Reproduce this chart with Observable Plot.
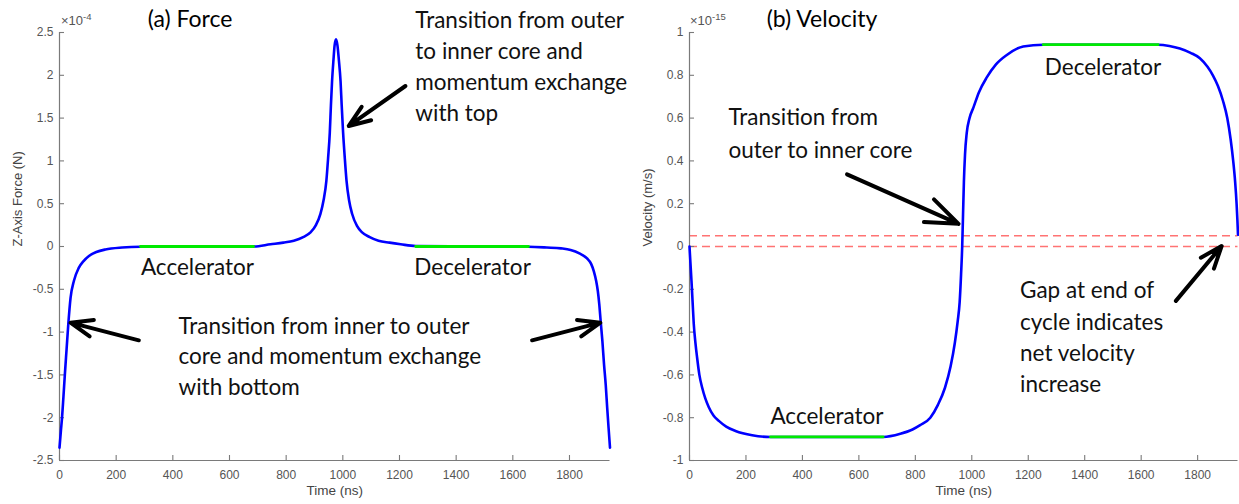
<!DOCTYPE html>
<html><head><meta charset="utf-8">
<script src="https://cdn.jsdelivr.net/npm/d3@7"></script>
<script src="https://cdn.jsdelivr.net/npm/@observablehq/plot@0.6"></script>
<style>
body{margin:0;background:#fff;}
#wrap{position:relative;width:1239px;height:504px;overflow:hidden;background:#fff;}
.panel{position:absolute;top:0;}
.title{position:absolute;font-family:Lato,sans-serif;font-size:23px;color:#000;transform:translate(-50%,-50%);white-space:nowrap;}
.mult{position:absolute;font-family:"Liberation Sans",Arial,sans-serif;font-size:13px;color:#555;white-space:nowrap;}
.mult sup{font-size:9.5px;}
</style></head><body>
<div id="wrap"></div>
<script>
// ---------- Panel (a): Force (units of 1e-4 N) ----------
const forceTime = [0,5,9,14,19,25,31,39,51,68,85,104,130,162,221,286,685,745,790,827,860,886,905,921,932,942,948,954,958,962,967,971,976,981,986,992,996,1001,1007,1013,1022,1033,1050,1068,1095,1126,1165,1204,1257,1655,1720,1770,1804,1835,1862,1876,1886,1894,1900,1905,1910,1916,1922,1928,1933,1938,1943];
const forceValue = [-2.35,-2.15,-2.0,-1.75,-1.49,-1.2,-0.91,-0.60,-0.40,-0.25,-0.17,-0.11,-0.065,-0.035,-0.012,-0.003,0.0,0.026,0.045,0.068,0.11,0.165,0.25,0.38,0.54,0.77,1.03,1.33,1.65,1.93,2.18,2.35,2.42,2.35,2.18,1.93,1.65,1.33,1.03,0.77,0.54,0.38,0.24,0.165,0.11,0.068,0.045,0.026,0.005,-0.003,-0.012,-0.022,-0.04,-0.08,-0.14,-0.2,-0.29,-0.4,-0.52,-0.67,-0.87,-1.1,-1.38,-1.62,-1.88,-2.12,-2.35];
const forceGreenTime = [[286,685],[1257,1655]];
const forceGreenValue = [[0,0],[0,0]];
const forceYTicks = [-2.5,-2,-1.5,-1,-0.5,0,0.5,1,1.5,2,2.5];
const forceNoteText = ["Transition from outer\nto inner core and\nmomentum exchange\nwith top","Accelerator","Decelerator","Transition from inner to outer\ncore and momentum exchange\nwith bottom"];
const forceNoteTime = [1256,487,1458,420];
const forceNoteValue = [2.125,-0.251,-0.251,-1.26];
const forceNoteAnchor = ["start","middle","middle","start"];
const forceNoteLineHeight = [1.37,1,1,1.36];
const forceArrowFrom = [[1221,1.875],[280,-1.096],[1668,-1.096]];
const forceArrowTo = [[1021,1.408],[38.8,-0.89],[1909,-0.89]];

// ---------- Panel (b): Velocity (units of 1e-15 m/s) ----------
const velTime = [0,3,7,11,15,21,27,35,45,56,68,85,104,130,163,222,287,686,747,790,817,853,880,905,925,940,950,957,962,966,969,972,976,982,992,1006,1025,1053,1085,1124,1182,1253,1660,1700,1737,1775,1808,1835,1854,1872,1890,1905,1917,1926,1933,1938,1941,1943];
const velValue = [0,-0.07,-0.16,-0.26,-0.36,-0.45,-0.52,-0.6,-0.66,-0.71,-0.75,-0.79,-0.815,-0.842,-0.862,-0.882,-0.89,-0.89,-0.875,-0.855,-0.835,-0.80,-0.74,-0.66,-0.56,-0.45,-0.35,-0.26,-0.13,0,0.15,0.30,0.43,0.53,0.60,0.65,0.72,0.79,0.85,0.895,0.935,0.943,0.943,0.937,0.925,0.905,0.88,0.84,0.80,0.75,0.68,0.60,0.50,0.40,0.30,0.20,0.12,0.055];
const velGreenTime = [[287,686],[1253,1660]];
const velGreenValue = [[-0.89,-0.89],[0.943,0.943]];
const velRefLines = [0,0.05];
const velYTicks = [-1,-0.8,-0.6,-0.4,-0.2,0,0.2,0.4,0.6,0.8,1];
const velNoteText = ["Transition from\nouter to inner core","Decelerator","Accelerator","Gap at end of\ncycle indicates\nnet velocity\nincrease"];
const velNoteTime = [138,1465,487,1171];
const velNoteValue = [0.542,0.834,-0.798,-0.414];
const velNoteAnchor = ["start","middle","middle","start"];
const velNoteLineHeight = [1.48,1,1,1.38];
const velArrowFrom = [[558,0.337],[1723,-0.254]];
const velArrowTo = [[953,0.106],[1885,0.002]];

const xTicks = [0,200,400,600,800,1000,1200,1400,1600,1800];
const xDomain = [0,1943];

const AX = "#7a7a7a", TX = "#555", LBL = "#444";
const annFont = "Lato, 'Open Sans', sans-serif";
const annSize = 22.5;

function series(ts, vs){ return ts.map((t,i)=>({t, v: vs[i]})); }
function arrows(from,to){ return from.map((f,i)=>({x1:f[0],y1:f[1],x2:to[i][0],y2:to[i][1]})); }
function buildNotes(text, ts, vs, anchors, lhs){
  return text.map((s,i)=>({text:s, t:ts[i], v:vs[i], anchor:anchors[i], lh:lhs[i]}));
}

function fullPanel(opts, notesArr){
  const groups = d3.groups(notesArr, d=>d.anchor+"|"+d.lh);
  const noteMarks = groups.map(([k, arr]) => Plot.text(arr, {x:"t", y:"v", text:"text", textAnchor: arr[0].anchor, lineHeight: arr[0].lh, fontFamily: annFont, fontSize: annSize, fill:"#111"}));
  const marks = [];
  if (opts.refLines) marks.push(Plot.ruleY(opts.refLines, {stroke:"#ff7373", strokeWidth:1.4, strokeDasharray:"8,5"}));
  marks.push(
    Plot.ruleY([opts.yDomain[0]], {stroke: AX, strokeWidth: 1.2}),
    Plot.ruleX([xDomain[0]], {stroke: AX, strokeWidth: 1.2}),
    // inward tick marks
    Plot.axisX({ticks: xTicks, tickSize: 5, dy: -5, text: null, stroke: AX, strokeWidth: 1.1}),
    Plot.axisY({ticks: opts.yTicks, tickSize: 5, dx: 5, text: null, stroke: AX, strokeWidth: 1.1}),
    // tick labels
    Plot.axisX({ticks: xTicks, tickSize: 0, tickPadding: 10, tickFormat: d=>String(d), fill: TX, fontSize: 12}),
    Plot.axisY({ticks: opts.yTicks, tickSize: 0, tickPadding: 6, tickFormat: d=>String(d), fill: TX, fontSize: 12}),
    Plot.line(opts.line, {x:"t", y:"v", stroke:"#0000ff", strokeWidth:2.6, curve:"monotone-x"})
  );
  for (const g of opts.greens) marks.push(Plot.line(g, {x:"t", y:"v", stroke:"#00ea00", strokeWidth:2.8}));
  marks.push(
    Plot.arrow(opts.arrowData, {x1:"x1", y1:"y1", x2:"x2", y2:"y2", stroke:"#000", strokeWidth:4, headLength:13, headAngle:42, strokeLinejoin:"miter"}),
    ...noteMarks,
    Plot.text(["Time (ns)"], {text: d=>d, frameAnchor:"bottom", dy: 34, fontSize: 13.5, fill: LBL}),
    Plot.text([opts.ylabel], {text: d=>d, frameAnchor:"left", rotate:-90, dx:-42, fontSize: 13, fill: LBL})
  );
  return Plot.plot({
    width: opts.width, height: 504,
    marginLeft: opts.marginLeft, marginRight: opts.marginRight, marginTop: 32, marginBottom: 44,
    style: {fontFamily: "'Liberation Sans', Arial, sans-serif", background: "transparent", overflow: "visible"},
    x: {domain: xDomain},
    y: {domain: opts.yDomain},
    marks
  });
}

const wrap = document.getElementById("wrap");

const left = fullPanel({
  width: 620, marginLeft: 59, marginRight: 10.5,
  yDomain: [-2.5, 2.5], yTicks: forceYTicks,
  line: series(forceTime, forceValue),
  greens: forceGreenTime.map((ts,i)=>series(ts, forceGreenValue[i])),
  arrowData: arrows(forceArrowFrom, forceArrowTo),
  ylabel: "Z-Axis Force (N)"
}, buildNotes(forceNoteText, forceNoteTime, forceNoteValue, forceNoteAnchor, forceNoteLineHeight));
left.classList.add("panel"); left.style.left = "0px";
wrap.appendChild(left);

const right = fullPanel({
  width: 619, marginLeft: 69, marginRight: 1.5,
  yDomain: [-1, 1], yTicks: velYTicks,
  line: series(velTime, velValue),
  greens: velGreenTime.map((ts,i)=>series(ts, velGreenValue[i])),
  arrowData: arrows(velArrowFrom, velArrowTo),
  ylabel: "Velocity (m/s)",
  refLines: velRefLines
}, buildNotes(velNoteText, velNoteTime, velNoteValue, velNoteAnchor, velNoteLineHeight));
right.classList.add("panel"); right.style.left = "620px";
wrap.appendChild(right);

// titles and exponent multipliers
const titles = [{text:"(a) Force", x:190, y:18},{text:"(b) Velocity", x:822, y:18}];
for (const t of titles){ const d=document.createElement("div"); d.className="title"; d.textContent=t.text; d.style.left=t.x+"px"; d.style.top=t.y+"px"; wrap.appendChild(d); }
const mults = [{base:"×10", exp:"-4", x:61, y:11},{base:"×10", exp:"-15", x:690, y:11}];
for (const m of mults){ const d=document.createElement("div"); d.className="mult"; d.innerHTML=m.base+"<sup>"+m.exp+"</sup>"; d.style.left=m.x+"px"; d.style.top=m.y+"px"; wrap.appendChild(d); }
</script>
</body></html>
